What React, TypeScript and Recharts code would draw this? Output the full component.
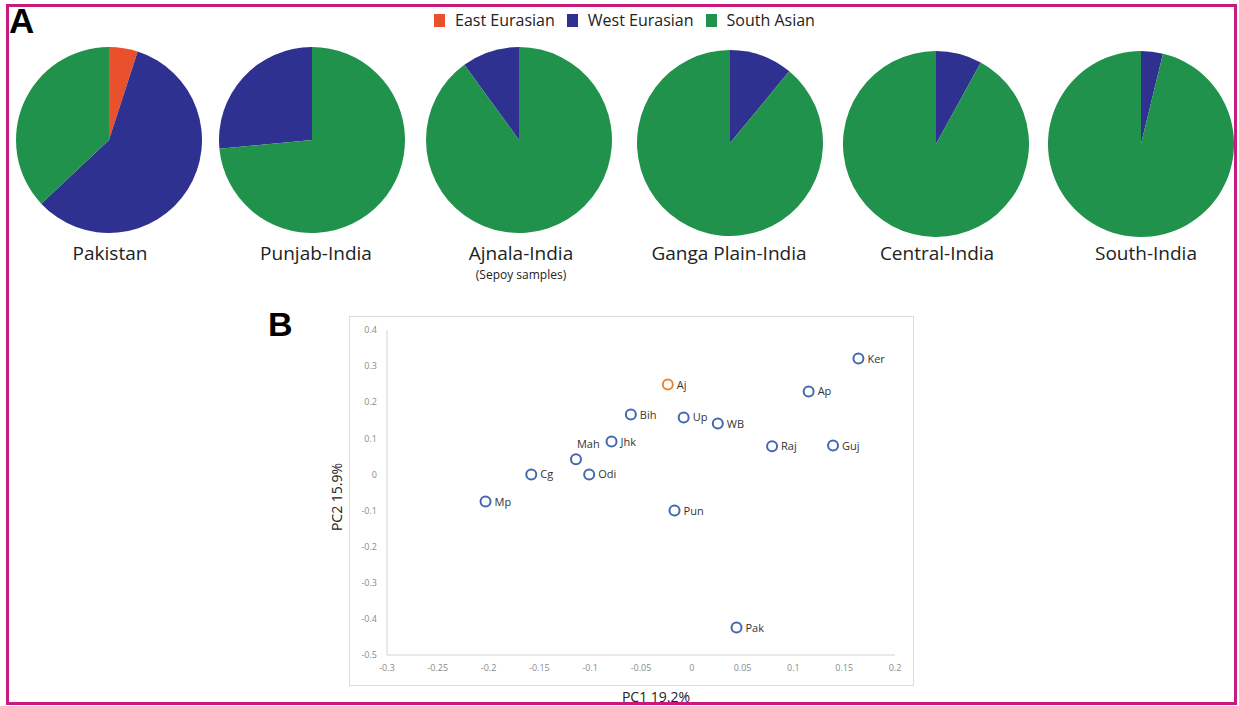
import React from 'react';
import { PieChart, Pie, Cell, Legend, ScatterChart, Scatter, XAxis, YAxis } from 'recharts';

// ---------- Panel A data ----------
const ancestryNames = ['East Eurasian', 'West Eurasian', 'South Asian'];
const ancestryColors = ['#e8512b', '#2e3190', '#21924b'];
const regions = ['Pakistan', 'Punjab-India', 'Ajnala-India', 'Ganga Plain-India', 'Central-India', 'South-India'];
const regionNotes = ['', '', '(Sepoy samples)', '', '', ''];
const eastEurasian = [5, 0, 0, 0, 0, 0];
const westEurasian = [58, 26.5, 10, 11, 8, 3.8];
const southAsian = [37, 73.5, 90, 89, 92, 96.2];

// ---------- Panel B data ----------
const popNames = ['Ker', 'Ap', 'Bih', 'Up', 'WB', 'Jhk', 'Mah', 'Cg', 'Odi', 'Mp', 'Pun', 'Raj', 'Guj', 'Pak'];
const popPC1 = [0.164, 0.115, -0.06, -0.008, 0.0256, -0.079, -0.114, -0.158, -0.101, -0.203, -0.017, 0.079, 0.139, 0.044];
const popPC2 = [0.321, 0.23, 0.166, 0.158, 0.141, 0.091, 0.042, 0, 0, -0.075, -0.1, 0.078, 0.08, -0.424];
const sampleNames = ['Aj'];
const samplePC1 = [-0.0236];
const samplePC2 = [0.249];
const xTicks = [-0.3, -0.25, -0.2, -0.15, -0.1, -0.05, 0, 0.05, 0.1, 0.15, 0.2];
const yTicks = [-0.5, -0.4, -0.3, -0.2, -0.1, 0, 0.1, 0.2, 0.3, 0.4];

// ---------- layout (not data) ----------
const pieCX = [109, 312, 519, 730, 936, 1141];
const pieCY = [140, 140, 140, 143, 144, 144];
const pieClockwise = [true, false, false, true, true, true];
const titleCX = [110, 316, 521, 729, 937, 1146];

const FONT = '"Open Sans", "Noto Sans", sans-serif';

const popData = popNames.map((n, i) => ({ name: n, x: popPC1[i], y: popPC2[i] }));
const sampleData = sampleNames.map((n, i) => ({ name: n, x: samplePC1[i], y: samplePC2[i] }));

function pieData(i: number) {
  const vals = [eastEurasian[i], westEurasian[i], southAsian[i]];
  return vals
    .map((v, k) => ({ name: ancestryNames[k], value: v, color: ancestryColors[k] }))
    .filter((d) => d.value > 0);
}

const LegendContent = () => (
  <div style={{ display: 'flex', justifyContent: 'center', alignItems: 'center', fontFamily: FONT, fontSize: 16, color: '#222', lineHeight: '22px' }}>
    {ancestryNames.map((n, k) => (
      <div key={n} style={{ display: 'flex', alignItems: 'center', marginRight: k < 2 ? 12 : 0 }}>
        <span style={{ display: 'inline-block', width: 11, height: 13, background: ancestryColors[k], marginRight: 10 }} />
        <span>{n}</span>
      </div>
    ))}
  </div>
);

function makeShape(color: string) {
  return (props: any) => {
    const { cx, cy, payload } = props;
    const isMah = payload.name === 'Mah';
    return (
      <g>
        <circle cx={cx} cy={cy} r={5} fill="#fff" stroke={color} strokeWidth={2} />
        <text
          x={isMah ? cx + 1 : cx + 9}
          y={isMah ? cy - 11 : cy + 4}
          fontSize={11}
          fontFamily={FONT}
          fill="#333"
          textAnchor="start"
        >
          {payload.name}
        </text>
      </g>
    );
  };
}

export default function App() {
  return (
    <div style={{ position: 'absolute', left: 0, top: 0, width: 1239, height: 706, background: '#fff', overflow: 'hidden', fontFamily: FONT }}>
      {/* magenta frame */}
      <div style={{ position: 'absolute', left: 6, top: 4, width: 1231, height: 701, border: '3px solid #c8197f', boxSizing: 'border-box' }} />

      {/* Panel A */}
      <div style={{ position: 'absolute', left: 9, top: 1, fontFamily: 'Arial, "Liberation Sans", sans-serif', fontWeight: 'bold', fontSize: 35, lineHeight: '40px', color: '#000' }}>A</div>
      <div style={{ position: 'absolute', left: 0, top: 0 }}>
        <PieChart width={1239} height={300} margin={{ top: 0, right: 0, bottom: 0, left: 0 }}>
          <Legend
            verticalAlign="bottom"
            content={<LegendContent />}
            wrapperStyle={{ top: 9, bottom: 'auto', left: 5, width: 1239, height: 22 }}
          />
          {regions.map((r, i) => (
            <Pie
              key={r}
              data={pieData(i)}
              dataKey="value"
              nameKey="name"
              cx={pieCX[i]}
              cy={pieCY[i]}
              outerRadius={93}
              innerRadius={0}
              startAngle={90}
              endAngle={pieClockwise[i] ? -270 : 450}
              stroke="none"
              isAnimationActive={false}
              legendType="none"
            >
              {pieData(i).map((d) => (
                <Cell key={d.name} fill={d.color} />
              ))}
            </Pie>
          ))}
        </PieChart>
      </div>
      {regions.map((r, i) => (
        <div key={r} style={{ position: 'absolute', left: titleCX[i] - 120, width: 240, top: 240, textAlign: 'center', fontSize: 19, color: '#222', lineHeight: '26px' }}>
          {r}
          {regionNotes[i] ? (
            <div style={{ fontSize: 12, lineHeight: '16px', marginTop: 1 }}>{regionNotes[i]}</div>
          ) : null}
        </div>
      ))}

      {/* Panel B */}
      <div style={{ position: 'absolute', left: 268, top: 305, fontFamily: 'Arial, "Liberation Sans", sans-serif', fontWeight: 'bold', fontSize: 34, color: '#000' }}>B</div>
      <div style={{ position: 'absolute', left: 349, top: 316, width: 565, height: 370, border: '1px solid #dcdcdc', boxSizing: 'border-box' }} />
      <div style={{ position: 'absolute', left: 349, top: 316 }}>
        <ScatterChart width={564} height={369} margin={{ top: 14, right: 18, bottom: 0, left: 0 }}>
          <XAxis
            type="number"
            dataKey="x"
            domain={[-0.3, 0.2]}
            ticks={xTicks}
            interval={0}
            height={30}
            axisLine={{ stroke: '#d4d4d4' }}
            tickLine={false}
            tickMargin={4}
            tick={{ fontSize: 9, fill: '#8a8a8a', fontFamily: FONT }}
            tickFormatter={(v: number) => String(v)}
          />
          <YAxis
            type="number"
            dataKey="y"
            domain={[-0.5, 0.4]}
            ticks={yTicks}
            interval={0}
            width={38}
            axisLine={{ stroke: '#d4d4d4' }}
            tickLine={false}
            tickMargin={4}
            tick={{ fontSize: 9, fill: '#8a8a8a', fontFamily: FONT }}
            tickFormatter={(v: number) => String(v)}
          />
          <Scatter data={popData} isAnimationActive={false} shape={makeShape('#4468b0')} />
          <Scatter data={sampleData} isAnimationActive={false} shape={makeShape('#e3892f')} />
        </ScatterChart>
      </div>
      <div style={{ position: 'absolute', left: 556, width: 200, top: 687, textAlign: 'center', fontSize: 14, color: '#222', lineHeight: '20px' }}>PC1 19.2%</div>
      <div style={{ position: 'absolute', left: 337 - 100, width: 200, top: 497 - 10, textAlign: 'center', fontSize: 14, color: '#222', lineHeight: '20px', transform: 'rotate(-90deg)' }}>PC2 15.9%</div>
    </div>
  );
}
